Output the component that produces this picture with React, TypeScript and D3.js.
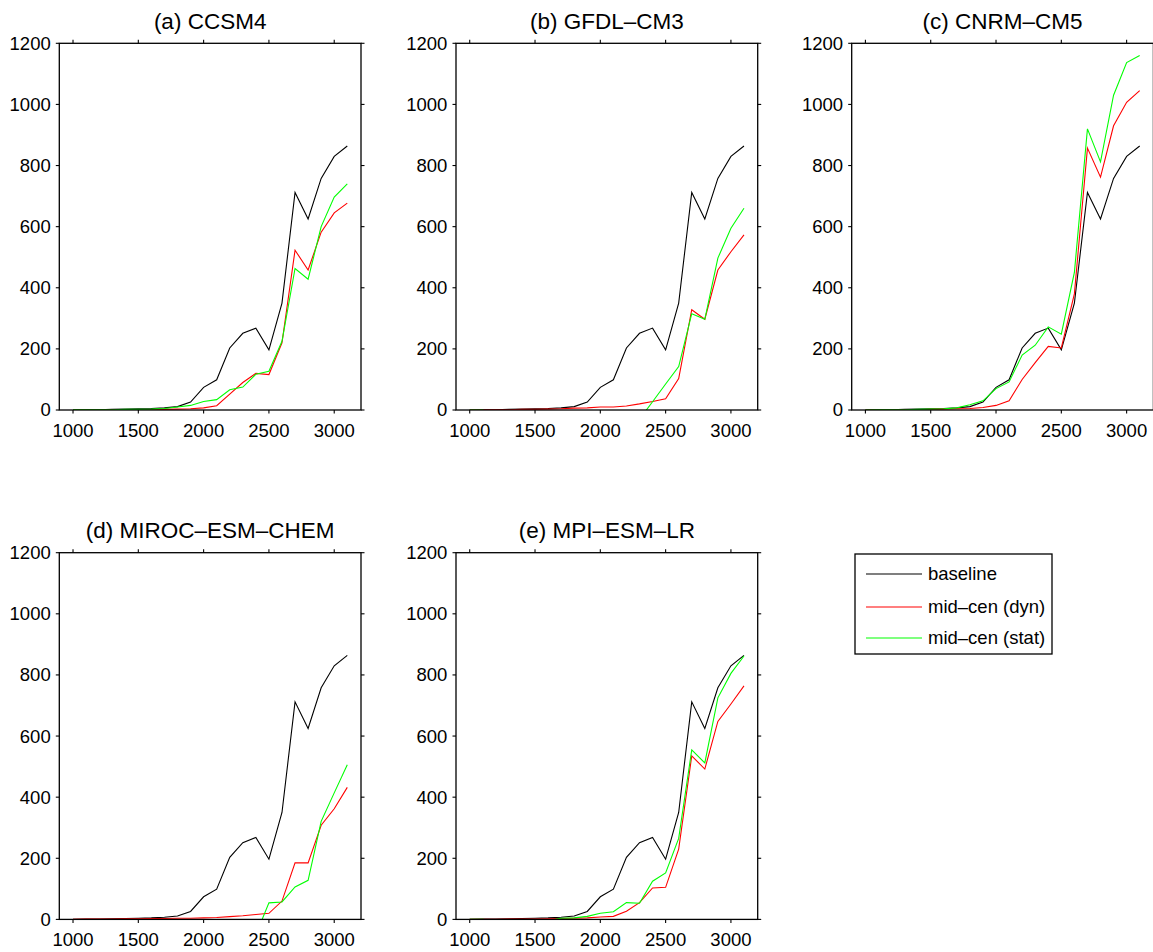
import React from "react";
import * as d3 from "d3";

// Years on the x axis (one value per century step)
const years = [1000, 1100, 1200, 1300, 1400, 1500, 1600, 1700, 1800, 1900, 2000,
  2100, 2200, 2300, 2400, 2500, 2600, 2700, 2800, 2900, 3000, 3100];

// Baseline series (shared by all panels)
const baseline = [0, 1, 1, 2, 3, 4, 5, 7, 11, 26, 74, 99, 203, 251, 268, 197, 350, 712, 625, 758, 830, 864];

// Mid-century, dynamic
const ccsm4Dyn = [0, 0, 0, 1, 1, 1, 1, 2, 3, 4, 7, 14, 52, 90, 120, 116, 220, 523, 458, 582, 645, 677];
const gfdlDyn = [0, 0, 1, 1, 2, 2, 3, 4, 6, 7, 10, 10, 13, 20, 28, 37, 103, 328, 297, 458, 518, 573];
const cnrmDyn = [0, 0, 0, 1, 1, 2, 3, 4, 5, 8, 15, 30, 100, 155, 208, 203, 380, 857, 762, 930, 1007, 1045];
const mirocDyn = [0, 1, 1, 1, 2, 2, 3, 3, 4, 4, 5, 6, 9, 12, 16, 20, 60, 185, 185, 308, 362, 432];
const mpiDyn = [0, 0, 0, 1, 1, 1, 2, 3, 4, 5, 8, 10, 27, 55, 103, 105, 230, 535, 492, 648, 705, 764];

// Mid-century, static
const ccsm4Stat = [1, 1, 1, 1, 2, 2, 3, 5, 10, 15, 28, 34, 66, 75, 117, 127, 225, 463, 428, 600, 697, 740];
const gfdlStat = [0, 0, -20, -25, -30, -30, -30, -30, -30, -30, -30, -30, -30, -30, 27, 85, 142, 315, 297, 497, 595, 660];
const cnrmStat = [0, 1, 1, 1, 2, 3, 4, 7, 17, 30, 70, 92, 180, 212, 272, 248, 450, 920, 812, 1030, 1137, 1160];
const mirocStat = [0, -50, -50, -50, -50, -50, -50, -50, -50, -50, -50, -50, -50, -50, -50, 54, 57, 106, 128, 321, 414, 506];
const mpiStat = [0, 0, -5, -5, -5, -5, -4, 4, 5, 10, 20, 25, 55, 53, 125, 152, 265, 555, 512, 725, 805, 862];

const panelTitles = ["(a) CCSM4", "(b) GFDL–CM3", "(c) CNRM–CM5", "(d) MIROC–ESM–CHEM", "(e) MPI–ESM–LR"];
const dynSeries = [ccsm4Dyn, gfdlDyn, cnrmDyn, mirocDyn, mpiDyn];
const statSeries = [ccsm4Stat, gfdlStat, cnrmStat, mirocStat, mpiStat];

const xTicks = [1000, 1500, 2000, 2500, 3000];
const yTicks = [0, 200, 400, 600, 800, 1000, 1200];

const legendLabels = ["baseline", "mid–cen (dyn)", "mid–cen (stat)"];
const seriesColors = ["#000000", "#ff0000", "#00ff00"];

const FONT = "'Liberation Sans', Arial, Helvetica, sans-serif";
const W = 1153;
const H = 952;
const PW = 301.7;
const PH = 366.7;
const colX = [59.3, 456, 851.7];
const rowY = [43.3, 552.7];
const TICK = 3.5;

function Panel({ idx, left, top }: { idx: number; left: number; top: number }) {
  const x = d3.scaleLinear().domain([895, 3205]).range([0, PW]);
  const y = d3.scaleLinear().domain([0, 1200]).range([PH, 0]);
  const line = d3
    .line<number>()
    .x((_, i) => x(years[i]))
    .y((d) => y(d));
  const clipId = `clip-${idx}`;
  const series = [baseline, dynSeries[idx], statSeries[idx]];
  return (
    <g transform={`translate(${left},${top})`}>
      <defs>
        <clipPath id={clipId}>
          <rect x={0} y={0} width={PW} height={PH} />
        </clipPath>
      </defs>
      <text
        x={PW / 2}
        y={-14.5}
        textAnchor="middle"
        fontFamily={FONT}
        fontSize={22.5}
        fill="#000"
      >
        {panelTitles[idx]}
      </text>
      <g clipPath={`url(#${clipId})`}>
        {series.map((s, k) => (
          <path key={k} d={line(s) || ""} fill="none" stroke={seriesColors[k]} strokeWidth={1.1} />
        ))}
      </g>
      <rect x={0} y={0} width={PW} height={PH} fill="none" stroke="#000" strokeWidth={1.3} />
      {xTicks.map((t) => (
        <g key={`x${t}`}>
          <line x1={x(t)} x2={x(t)} y1={PH} y2={PH + TICK} stroke="#000" strokeWidth={1.1} />
          <line x1={x(t)} x2={x(t)} y1={0} y2={-TICK} stroke="#000" strokeWidth={1.1} />
          <text
            x={x(t)}
            y={PH + 27}
            textAnchor="middle"
            fontFamily={FONT}
            fontSize={18.5}
            fill="#000"
          >
            {t}
          </text>
        </g>
      ))}
      {yTicks.map((t) => (
        <g key={`y${t}`}>
          <line x1={-TICK} x2={0} y1={y(t)} y2={y(t)} stroke="#000" strokeWidth={1.1} />
          <line x1={PW} x2={PW + TICK} y1={y(t)} y2={y(t)} stroke="#000" strokeWidth={1.1} />
          <text
            x={-8.6}
            y={y(t) + 6.5}
            textAnchor="end"
            fontFamily={FONT}
            fontSize={18.5}
            fill="#000"
          >
            {t}
          </text>
        </g>
      ))}
    </g>
  );
}

function Legend() {
  const rows = [574, 607, 638];
  return (
    <g>
      <rect x={855} y={554} width={197} height={100} fill="#fff" stroke="#000" strokeWidth={1.3} />
      {legendLabels.map((lab, i) => (
        <g key={lab}>
          <line x1={866} x2={922} y1={rows[i]} y2={rows[i]} stroke={seriesColors[i]} strokeWidth={1.1} />
          <text x={928} y={rows[i] + 6.4} fontFamily={FONT} fontSize={18.5} fill="#000">
            {lab}
          </text>
        </g>
      ))}
    </g>
  );
}

export default function App() {
  const positions = [
    [colX[0], rowY[0]],
    [colX[1], rowY[0]],
    [colX[2], rowY[0]],
    [colX[0], rowY[1]],
    [colX[1], rowY[1]],
  ];
  return (
    <div style={{ position: "absolute", left: 0, top: 0 }}>
      <svg width={W} height={H} viewBox={`0 0 ${W} ${H}`} style={{ display: "block", background: "#fff" }}>
        {positions.map(([l, t], i) => (
          <Panel key={i} idx={i} left={l} top={t} />
        ))}
        <Legend />
      </svg>
    </div>
  );
}
